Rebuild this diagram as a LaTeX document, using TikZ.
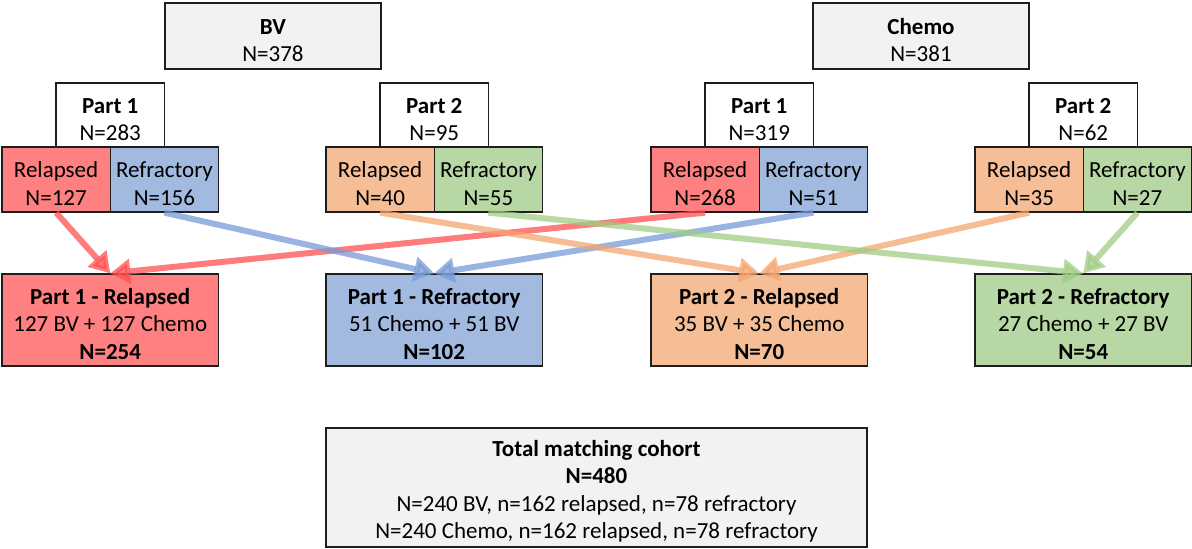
\documentclass[tikz,border=0pt]{standalone}
\usepackage{fontspec}
\setmainfont{Carlito}
\usetikzlibrary{arrows.meta}
\definecolor{boxline}{RGB}{30,30,30}
\definecolor{grayfill}{RGB}{242,242,242}
\definecolor{redfill}{RGB}{255,128,128}
\definecolor{bluefill}{RGB}{162,185,224}
\definecolor{orangefill}{RGB}{245,190,151}
\definecolor{greenfill}{RGB}{183,215,164}
\definecolor{redarrow}{RGB}{255,80,80}
\definecolor{bluearrow}{RGB}{120,155,215}
\definecolor{orangearrow}{RGB}{243,165,112}
\definecolor{greenarrow}{RGB}{160,204,133}
\newcommand{\fstrut}{\rule{0pt}{24pt}}
\begin{document}
\begin{tikzpicture}[x=1pt,y=-1pt,
  box/.style={draw=boxline, line width=1.3pt, inner sep=0pt, align=center,
    font=\fontsize{23}{27.5}\selectfont, text=black},
  topbox/.style={box, fill=grayfill, minimum width=216pt, minimum height=66pt},
  partbox/.style={box, fill=white, minimum width=108.5pt, minimum height=64pt},
  smallbox/.style={box, minimum width=108.25pt, minimum height=65pt},
  bigbox/.style={box, minimum width=216.5pt, minimum height=92pt},
  conn/.style={line width=6pt, draw opacity=0.75, fill opacity=0.75,
    -{Triangle[width=24pt,length=20pt]}},
]
\useasboundingbox (0,0) rectangle (1192,549);

% top level
\node[topbox] (bv) at (273,36) {\fstrut\textbf{BV}\\N=378};
\node[topbox] (chemo) at (921,36) {\fstrut\textbf{Chemo}\\N=381};

% BV part 1 (L=2)
\node[partbox] (bvp1) at (110.25,115) {\fstrut\textbf{Part 1}\\N=283};
\node[smallbox, fill=redfill] (bvp1rel) at (56.1,179.5) {\fstrut Relapsed\\N=127};
\node[smallbox, fill=bluefill] (bvp1ref) at (164.4,179.5) {\fstrut Refractory\\N=156};
% BV part 2 (L=326)
\node[partbox] (bvp2) at (434.25,115) {\fstrut\textbf{Part 2}\\N=95};
\node[smallbox, fill=orangefill] (bvp2rel) at (380.1,179.5) {\fstrut Relapsed\\N=40};
\node[smallbox, fill=greenfill] (bvp2ref) at (488.4,179.5) {\fstrut Refractory\\N=55};
% Chemo part 1 (L=651)
\node[partbox] (chp1) at (759.25,115) {\fstrut\textbf{Part 1}\\N=319};
\node[smallbox, fill=redfill] (chp1rel) at (705.1,179.5) {\fstrut Relapsed\\N=268};
\node[smallbox, fill=bluefill] (chp1ref) at (813.4,179.5) {\fstrut Refractory\\N=51};
% Chemo part 2 (L=975)
\node[partbox] (chp2) at (1083.25,115) {\fstrut\textbf{Part 2}\\N=62};
\node[smallbox, fill=orangefill] (chp2rel) at (1029.1,179.5) {\fstrut Relapsed\\N=35};
\node[smallbox, fill=greenfill] (chp2ref) at (1137.4,179.5) {\fstrut Refractory\\N=27};

% matched groups
\node[bigbox, fill=redfill] (m1) at (110.25,320) {\fstrut\textbf{Part 1 - Relapsed}\\127 BV + 127 Chemo\\\textbf{N=254}};
\node[bigbox, fill=bluefill] (m2) at (434.25,320) {\fstrut\textbf{Part 1 - Refractory}\\51 Chemo + 51 BV\\\textbf{N=102}};
\node[bigbox, fill=orangefill] (m3) at (759.25,320) {\fstrut\textbf{Part 2 - Relapsed}\\35 BV + 35 Chemo\\\textbf{N=70}};
\node[bigbox, fill=greenfill] (m4) at (1083.25,320) {\fstrut\textbf{Part 2 - Refractory}\\27 Chemo + 27 BV\\\textbf{N=54}};

% total
\node[box, fill=grayfill, minimum width=541pt, minimum height=119pt] (tot) at (596.5,487.5)
  {\fstrut\textbf{Total matching cohort}\\\textbf{N=480}\\N=240 BV, n=162 relapsed, n=78 refractory\\N=240 Chemo, n=162 relapsed, n=78 refractory};

% connectors
\draw[conn, redarrow] (bvp1rel.south) -- (m1.north);
\draw[conn, redarrow] (chp1rel.south) -- (m1.north);
\draw[conn, bluearrow] (bvp1ref.south) -- (m2.north);
\draw[conn, bluearrow] (chp1ref.south) -- (m2.north);
\draw[conn, orangearrow] (bvp2rel.south) -- (m3.north);
\draw[conn, orangearrow] (chp2rel.south) -- (m3.north);
\draw[conn, greenarrow] (bvp2ref.south) -- (m4.north);
\draw[conn, greenarrow] (chp2ref.south) -- (m4.north);
\end{tikzpicture}
\end{document}
